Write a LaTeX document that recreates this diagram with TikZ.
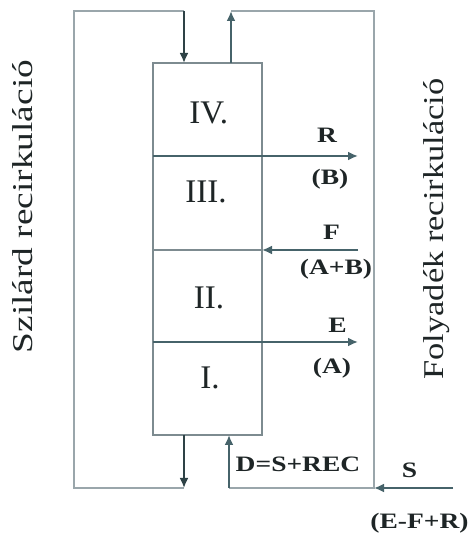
\documentclass[tikz,border=0pt]{standalone}
\usepackage{fontspec}
\setmainfont{Liberation Serif}
\usetikzlibrary{arrows.meta}
\definecolor{arrc}{HTML}{46636A}
\definecolor{darkc}{HTML}{2E4246}
\definecolor{loopc}{HTML}{9AA6AB}
\definecolor{boxc}{HTML}{7D8B90}
\definecolor{txtc}{HTML}{1E2526}
\newcommand{\lbltxt}[1]{\scalebox{1.25}[1]{\bfseries #1}}
\begin{document}
\begin{tikzpicture}[x=1pt,y=1pt,
  sec/.style={draw=boxc,line width=1.4pt,minimum width=109pt,inner sep=0pt,outer sep=0pt},
  numtxt/.style={inner sep=0pt,text=txtc,font=\fontsize{33}{36}\selectfont},
  lbl/.style={inner sep=0pt,text=txtc,font=\fontsize{22}{24}\selectfont},
  sidetxt/.style={inner sep=0pt,text=txtc,rotate=90,anchor=base,font=\fontsize{28.7}{30}\selectfont},
  loopline/.style={draw=loopc,line width=1.2pt},
  flow/.style={draw=arrc,line width=2pt,-{Latex[length=10pt,width=9pt]}},
  darkflow/.style={draw=darkc,line width=2pt,-{Latex[length=10pt,width=9pt]}}]
\useasboundingbox (0,0) rectangle (472,535);
\fill[white] (0,0) rectangle (472,535);
% column sections
\node[sec,minimum height=93pt] (s4) at (207.5,425.5) {};
\node[sec,minimum height=94pt] (s3) at (207.5,332) {};
\node[sec,minimum height=92pt] (s2) at (207.5,239) {};
\node[sec,minimum height=93pt] (s1) at (207.5,146.5) {};
\node[numtxt] (n4) at (208.7,422.5) {IV.};
\node[numtxt] (n3) at (206,343) {III.};
\node[numtxt] (n2) at (209,237) {II.};
\node[numtxt] (n1) at (210,157) {I.};
% coordinates of the recirculation loops
\coordinate (TL) at (74,524);
\coordinate (topA) at (184,524);
\coordinate (topB) at (231,524);
\coordinate (TR) at (374,524);
\coordinate (BR) at (374,47);
\coordinate (BL) at (74,47);
\coordinate (botA) at (184,47);
\coordinate (botB) at (229,47);
\coordinate (Sin) at (453,47);
\coordinate (rt) at (358,379);
\coordinate (ft) at (358,285);
\coordinate (et) at (358,193);
% loops
\draw[loopline] (botA) -- (BL) -- (TL) -- (topA);
\draw[loopline] (topB) -- (TR) -- (BR) -- (botB);
\draw[darkflow] (topA) -- (topA |- s4.north);
\draw[flow] (topB |- s4.north) -- (topB);
\draw[darkflow] (botA |- s1.south) -- (botA);
\draw[flow] (botB) -- (botB |- s1.south);
\draw[flow] (Sin) -- (BR);
% side streams
\draw[flow] (s3.north west) -- (rt);
\draw[flow] (ft) -- (s2.north east);
\draw[flow] (s1.north west) -- (et);
% labels
\node[lbl] (lR) at (327,399.5) {\lbltxt{R}};
\node[lbl] (lB) at (330,356) {\lbltxt{(B)}};
\node[lbl] (lF) at (331.5,303) {\lbltxt{F}};
\node[lbl] (lAB) at (336,266) {\lbltxt{(A+B)}};
\node[lbl] (lE) at (337.5,210) {\lbltxt{E}};
\node[lbl] (lA) at (332,167) {\lbltxt{(A)}};
\node[lbl] (lD) at (298,70.5) {\lbltxt{D=S+REC}};
\node[lbl] (lS) at (409.5,65) {\lbltxt{S}};
\node[lbl] (lEFR) at (419.5,12) {\lbltxt{(E-F+R)}};
\node[sidetxt] (szil) at (32,328.5) {\scalebox{1.3}[1]{Szilárd recirkuláció}};
\node[sidetxt] (foly) at (443.5,306) {\scalebox{1.2}[1]{Folyadék recirkuláció}};
\end{tikzpicture}
\end{document}
